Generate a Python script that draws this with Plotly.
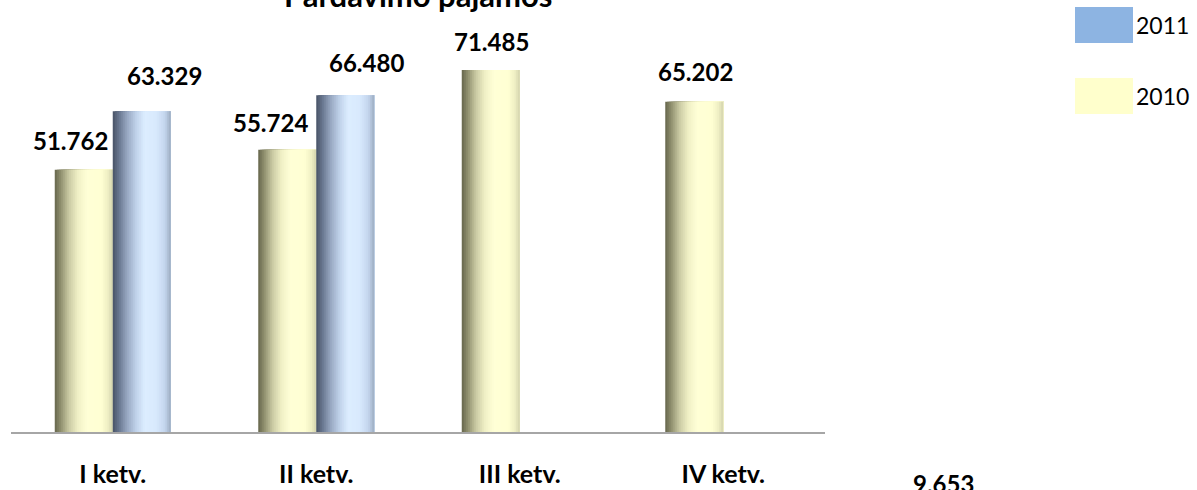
import plotly.graph_objects as go

# ---- data ----
categories = ["I ketv.", "II ketv.", "III ketv.", "IV ketv."]
values_2010 = [51.762, 55.724, 71.485, 65.202]
values_2011 = [63.329, 66.480, None, None]
series_names = ["2011", "2010"]
extra_label = "9.653"
title_text = "Pardavimo pajamos"

# ---- style ----
FONT = "Lato"
W, H = 1197, 490
L, R, T, B = 11, 372, 20, 58
plot_w = W - L - R
plot_h = H - T - B
px_per_unit = 5.065
y_max = plot_h / px_per_unit
bar_w = 58 / (plot_w / 4)  # in category units

grad_2010 = [(0.0, "#66664c"), (0.12, "#979775"), (0.25, "#cbcba4"), (0.40, "#f0f0c6"),
             (0.55, "#ffffd6"), (0.80, "#ffffd3"), (0.92, "#eeeec3"), (1.0, "#d3d3ad")]
grad_2011 = [(0.0, "#485266"), (0.12, "#6c7b94"), (0.25, "#98a8c2"), (0.40, "#bfd1e9"),
             (0.55, "#dcedff"), (0.75, "#d8e9fd"), (0.90, "#c3d5ed"), (1.0, "#9cacc0")]


def hex2rgb(h):
    h = h.lstrip("#")
    return tuple(int(h[i:i + 2], 16) for i in (0, 2, 4))


def grad_color(stops, t):
    for (p0, c0), (p1, c1) in zip(stops[:-1], stops[1:]):
        if p0 <= t <= p1:
            f = (t - p0) / (p1 - p0) if p1 > p0 else 0
            a, b = hex2rgb(c0), hex2rgb(c1)
            return "rgb(%d,%d,%d)" % tuple(round(a[i] + (b[i] - a[i]) * f) for i in range(3))
    return stops[-1][1]


N = 29
fig = go.Figure()


def add_gradient_bar(values, start_offset, stops):
    strip = bar_w / N
    for k in range(N):
        t = (k + 0.5) / N
        fig.add_trace(go.Bar(
            x=categories, y=values,
            offset=start_offset + k * strip,
            width=bar_w - k * strip,
            marker=dict(color=grad_color(stops, t), line=dict(width=0)),
            showlegend=False, hoverinfo="skip",
        ))


add_gradient_bar(values_2010, -bar_w, grad_2010)
add_gradient_bar(values_2011, 0.0, grad_2011)

annotations = []
label_specs = [
    (values_2010, [-42, -46, -28, -28], [13, 11, 12, 14]),
    (values_2011, [52, 50, 0, 0], [19, 16, 0, 0]),
]
for vals, xs, ys in label_specs:
    for i, v in enumerate(vals):
        if v is None:
            continue
        annotations.append(dict(
            x=categories[i], y=v, xref="x", yref="y",
            text=f"{v:.3f}", showarrow=False,
            xanchor="center", yanchor="bottom",
            xshift=xs[i], yshift=ys[i],
            font=dict(family=FONT, size=24, color="#000000", weight="bold"),
        ))

# title
annotations.append(dict(
    x=0.5, y=1, xref="paper", yref="paper", text=title_text, showarrow=False,
    xanchor="center", yanchor="bottom", yshift=4,
    font=dict(family=FONT, size=31, color="#000000", weight="bold"),
))

# extra value at bottom right
annotations.append(dict(
    x=(943 - L) / plot_w, y=0, xref="paper", yref="paper", text=extra_label,
    showarrow=False, xanchor="center", yanchor="top", yshift=-35,
    font=dict(family=FONT, size=24, color="#000000", weight="bold"),
))

# custom legend
legend_colors = ["#8db4e2", "#ffffcc"]
legend_tops = [7, 78]
shapes = []
for name, col, top in zip(series_names, legend_colors, legend_tops):
    y0 = (H - B - (top + 36)) / plot_h
    y1 = (H - B - top) / plot_h
    shapes.append(dict(type="rect", xref="paper", yref="paper",
                       x0=(1075 - L) / plot_w, x1=(1133 - L) / plot_w, y0=y0, y1=y1,
                       fillcolor=col, line=dict(width=0)))
    annotations.append(dict(
        x=(1134 - L) / plot_w, y=(y0 + y1) / 2, xref="paper", yref="paper",
        text=name, showarrow=False, xanchor="left", yanchor="middle",
        font=dict(family=FONT, size=23, color="#000000"),
    ))

fig.update_layout(
    width=W, height=H,
    margin=dict(l=L, r=R, t=T, b=B, pad=0, autoexpand=False),
    paper_bgcolor="white", plot_bgcolor="white",
    barmode="overlay",
    showlegend=False,
    xaxis=dict(type="category", categoryorder="array", categoryarray=categories,
               showline=True, linecolor="#a6a6a6", linewidth=2,
               showgrid=False, zeroline=False, ticks="",
               automargin=False, ticklabelstandoff=19,
               tickfont=dict(family=FONT, size=25, color="#000000", weight="bold"),
               range=[-0.5, 3.5], fixedrange=True),
    yaxis=dict(range=[0, y_max], visible=False, fixedrange=True, automargin=False),
    annotations=annotations,
    shapes=shapes,
)

fig.write_html(
    "out.html",
    config={"displayModeBar": False},
    post_script="document.body.style.margin='0';document.body.style.overflow='hidden';",
)
